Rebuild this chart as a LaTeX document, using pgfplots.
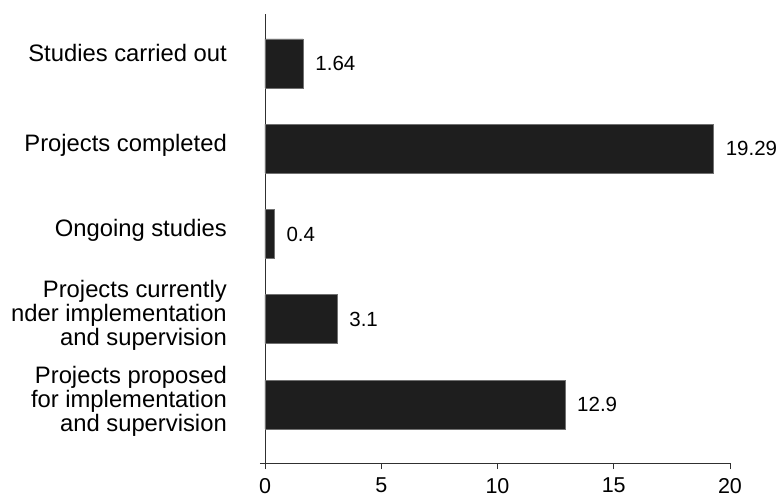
\documentclass[border=0pt]{standalone}
\usepackage{fontspec}
\setmainfont{Liberation Sans}
\usepackage{pgfplots}
\pgfplotsset{compat=1.18}
\definecolor{barfill}{HTML}{1E1E1E}
\definecolor{baredge}{HTML}{707070}
\definecolor{axiscol}{HTML}{303030}

\begin{document}
\begin{tikzpicture}
\begin{axis}[name=ax,
  scale only axis, width=465bp, height=449bp,
  xbar, bar width=49bp,
  xmin=0, xmax=20, ymin=-0.686, ymax=4.58,
  clip=false,
  axis x line*=bottom, axis y line*=left,
  axis line style={-, draw=axiscol, line width=0.9bp},
  x axis line style={shorten <=-5bp},
  xtick={0,5,10,15,20},
  tick align=outside, major tick length=6bp,
  xtick style={draw=axiscol, line width=0.9bp},
  ytick={0,1,2,3,4}, ytick style={draw=none},
  yticklabels={
    {Projects proposed\\for implementation\\and supervision},
    {Projects currently\\nder implementation\\and supervision},
    {Ongoing studies},
    {Projects completed},
    {\raisebox{6.5bp}[\height][\depth]{Studies carried out}}},
  /pgf/number format/assume math mode=true,
  xticklabel style={font=\fontsize{21.5bp}{26bp}\selectfont, inner sep=0pt, yshift=-9bp},
  yticklabel style={font=\fontsize{23.8bp}{24bp}\selectfont, align=right, inner sep=0pt, xshift=-32bp, yshift=3.5bp},
  point meta=explicit symbolic,
  nodes near coords={\pgfplotspointmeta},
  nodes near coords style={font=\fontsize{20.5bp}{24bp}\selectfont, anchor=west, inner sep=0pt, xshift=12bp, black},
]
\addplot[fill=barfill, draw=baredge, line width=0.6bp] coordinates {
  (12.9,0) [12.9]
  (3.1,1) [3.1]
  (0.4,2) [0.4]
  (19.29,3) [19.29]
  (1.64,4) [1.64]
};
\end{axis}
\pgfresetboundingbox
\path ([shift={(-265bp,-34bp)}]ax.south west) rectangle ([shift={(50bp,14bp)}]ax.north east);
\end{tikzpicture}
\end{document}
